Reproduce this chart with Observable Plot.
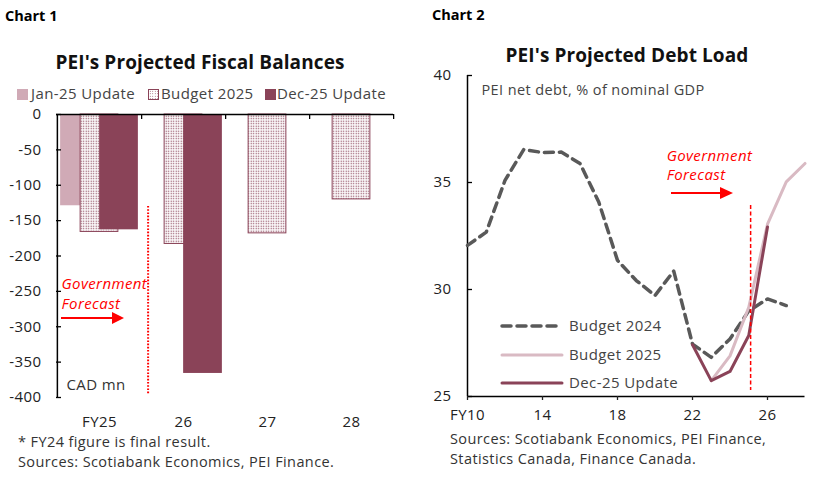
<!DOCTYPE html>
<html><head><meta charset="utf-8">
<script src="https://cdn.jsdelivr.net/npm/d3@7"></script>
<script src="https://cdn.jsdelivr.net/npm/@observablehq/plot@0.6"></script>
<style>
body{margin:0;background:#fff;font-family:"Open Sans",sans-serif;}
#wrap{position:relative;width:828px;height:483px;overflow:hidden;background:#fff}
.abs{position:absolute;white-space:nowrap}
.hdr{font-weight:700;font-size:14.5px;color:#000;line-height:20px}
.title{font-weight:700;font-size:19px;color:#111;text-align:center;line-height:24px;letter-spacing:0.1px}
.note{font-size:14.5px;color:#333;line-height:20px;letter-spacing:0.4px}
.leg{font-size:15px;color:#444;line-height:20px;letter-spacing:0.4px}
.sw{position:absolute;width:11px;height:11px}
</style></head><body><div id="wrap">
<div class="abs hdr" style="left:5px;top:6px">Chart 1</div>
<div class="abs hdr" style="left:432px;top:5px">Chart 2</div>
<div class="abs title" style="left:0;width:400px;top:50px">PEI's Projected Fiscal Balances</div>
<div class="abs title" style="left:427px;width:400px;top:43px">PEI's Projected Debt Load</div>
<div id="leg1"></div>
<div id="c1" class="abs" style="left:0;top:100px"></div>
<div id="c2" class="abs" style="left:414px;top:60px"></div>
<div class="abs note" style="left:18px;top:432px">* FY24 figure is final result.<br>Sources: Scotiabank Economics, PEI Finance.</div>
<div class="abs note" style="left:450px;top:429px">Sources: Scotiabank Economics, PEI Finance,<br>Statistics Canada, Finance Canada.</div>
<svg class="abs" style="left:0;top:0;pointer-events:none" width="828" height="483">
  <line x1="61" y1="318" x2="114" y2="318" stroke="#ff0000" stroke-width="2"/>
  <polygon points="112,312 124,318 112,324" fill="#ff0000"/>
  <line x1="671" y1="193" x2="722" y2="193" stroke="#ff0000" stroke-width="2"/>
  <polygon points="720,187 733,193 720,199" fill="#ff0000"/>
</svg>
<div id="leg2"></div>
</div>
<script>
// ---------- Chart 1 data ----------
const fiscalCategories = ["FY25", "26", "27", "28"];
const fiscalSeries = ["Jan-25 Update", "Budget 2025", "Dec-25 Update"];
const jan25Balances = [-129, null, null, null];
const budget2025Balances = [-166, -183, -168, -120];
const dec25Balances = [-163, -366, null, null];
const fiscalTicks = [0, -50, -100, -150, -200, -250, -300, -350, -400];

// ---------- Chart 2 data ----------
const budget2024Years = [10, 11, 12, 13, 14, 15, 16, 17, 18, 19, 20, 21, 22, 23, 24, 25, 26, 27];
const budget2024Debt = [32.06, 32.68, 35.1, 36.54, 36.4, 36.42, 35.89, 34.09, 31.36, 30.42, 29.72, 30.86, 27.45, 26.83, 27.69, 29.0, 29.56, 29.25];
const budget2025Years = [23, 24, 25, 26, 27, 28];
const budget2025Debt = [25.74, 26.9, 29.17, 33.05, 35.03, 35.89];
const dec25Years = [22, 23, 24, 25, 26];
const dec25Debt = [27.42, 25.74, 26.17, 27.85, 32.92];
const debtXTicks = [10, 14, 18, 22, 26];
const debtYTicks = [25, 30, 35, 40];
const debtSeries = ["Budget 2024", "Budget 2025", "Dec-25 Update"];

const C_LIGHT = "#D0AAB6";
const C_DARK = "#8A4358";
const C_LINE25 = "#D9BAC3";
const C_GREY = "#595959";

function rows(cats, vals) {
  return cats.map((c, i) => ({cat: c, value: vals[i]})).filter(d => d.value != null);
}

const axisStyle = {fontFamily: "Open Sans", fontSize: "15px", letterSpacing: "0.4px", color: "#222", background: "transparent", overflow: "visible"};

// ---------- Chart 1 ----------
const W1 = 414, ML1 = 56, MR1 = 21, MT1 = 14, MB1 = 36, H1 = 333;
const innerW1 = W1 - ML1 - MR1;
const innerH1 = H1 - MT1 - MB1;
const bw = innerW1 / fiscalCategories.length;
const barInset = (bw - 39) / 2;
const step = 19.5;

const fiscal = Plot.plot({
  width: W1, height: H1,
  marginLeft: ML1, marginRight: MR1, marginTop: MT1, marginBottom: MB1,
  style: axisStyle,
  x: {domain: fiscalCategories, padding: 0, label: null},
  y: {domain: [-400, 0], label: null},
  marks: [
    Plot.barY(rows(fiscalCategories, jan25Balances), {x: "cat", y: "value", fill: C_LIGHT, dx: -step, insetLeft: barInset, insetRight: barInset}),
    Plot.barY(rows(fiscalCategories, budget2025Balances), {x: "cat", y: "value", fill: "url(#dots)", stroke: C_DARK, strokeWidth: 1, dx: 0, insetLeft: barInset + 0.5, insetRight: barInset + 0.5}),
    Plot.barY(rows(fiscalCategories, dec25Balances), {x: "cat", y: "value", fill: C_DARK, dx: step, insetLeft: barInset, insetRight: barInset}),
    Plot.ruleY([0], {stroke: "#000", strokeWidth: 1.5}),
    Plot.ruleX([fiscalCategories[0]], {dx: -bw / 2, stroke: "#000", strokeWidth: 1.5}),
    Plot.tickY(fiscalTicks, {y: d => d, insetRight: innerW1 - 5, stroke: "#000", strokeWidth: 1.3}),
    Plot.tickX(fiscalCategories, {x: d => d, dx: bw / 2, insetBottom: innerH1 - 5, stroke: "#000", strokeWidth: 1.3}),
    Plot.axisY({ticks: fiscalTicks, tickSize: 0, tickPadding: 15, tickFormat: d => String(d), label: null}),
    Plot.axisX({tickSize: 0, tickPadding: 19, label: null}),
    Plot.ruleX([fiscalCategories[0]], {dx: 48.6, y1: -130, y2: -396, stroke: "#ff0000", strokeWidth: 2, strokeDasharray: "1.6,1.6"}),
    Plot.text(["Government\nForecast"], {frameAnchor: "left", y: [-252], text: d => d, dx: 5, textAnchor: "start", fill: "#ff0000", fontStyle: "italic", fontSize: 15, lineHeight: 1.3}),
    Plot.text(["CAD mn"], {frameAnchor: "bottom-left", text: d => d, dx: 10, dy: -8, textAnchor: "start", fill: "#333", fontSize: 15})
  ]
});
fiscal.insertAdjacentHTML("afterbegin",
  `<defs><pattern id="dots" width="2.5" height="2.5" patternUnits="userSpaceOnUse">
     <rect width="2.5" height="2.5" fill="#fff"/>
     <rect x="0.6" y="0.6" width="1.2" height="1.2" fill="${C_DARK}"/>
   </pattern></defs>`);
document.getElementById("c1").appendChild(fiscal);

// Chart 1 legend
const leg1 = document.getElementById("leg1");
const leg1Items = [
  {x: 17, tx: 31, fill: C_LIGHT, border: "none"},
  {x: 148, tx: 161, fill: "dots", border: C_DARK},
  {x: 265, tx: 277, fill: C_DARK, border: "none"}
];
fiscalSeries.forEach((s, i) => {
  const it = leg1Items[i];
  const sw = document.createElement("div");
  sw.className = "sw";
  sw.style.left = it.x + "px"; sw.style.top = "89px";
  if (it.fill === "dots") {
    sw.style.boxSizing = "border-box";
    sw.style.border = "1px solid " + it.border;
    sw.style.background = `radial-gradient(${C_DARK} 0.6px, #fff 0.7px) 0 0/2.5px 2.5px`;
  } else sw.style.background = it.fill;
  leg1.appendChild(sw);
  const t = document.createElement("div");
  t.className = "abs leg";
  t.style.left = it.tx + "px"; t.style.top = "83px";
  t.textContent = s;
  leg1.appendChild(t);
});

// ---------- Chart 2 ----------
const W2 = 414, ML2 = 53, MR2 = 23.5, MT2 = 15, MB2 = 40, H2 = 376;
const innerW2 = W2 - ML2 - MR2;
const toPts = (xs, ys) => xs.map((x, i) => ({year: x, value: ys[i]}));

const debt = Plot.plot({
  width: W2, height: H2,
  marginLeft: ML2, marginRight: MR2, marginTop: MT2, marginBottom: MB2,
  style: axisStyle,
  x: {domain: [10, 28], label: null},
  y: {domain: [25, 40], label: null},
  marks: [
    Plot.ruleX([10], {stroke: "#000", strokeWidth: 1.5}),
    Plot.ruleY([25], {stroke: "#000", strokeWidth: 1.5}),
    Plot.tickY(debtYTicks, {y: d => d, insetRight: innerW2 - 5, stroke: "#000", strokeWidth: 1.3}),
    Plot.axisY({ticks: debtYTicks, tickSize: 0, tickPadding: 16, label: null}),
    Plot.axisX({ticks: debtXTicks, tickSize: 4, tickPadding: 9, tickFormat: d => d === 10 ? "FY10" : String(d), label: null, strokeWidth: 1.3}),
    Plot.text(["PEI net debt, % of nominal GDP"], {frameAnchor: "top-left", text: d => d, dx: 14, dy: 9, textAnchor: "start", fill: "#444", fontSize: 14.5}),
    Plot.line(toPts(budget2024Years, budget2024Debt), {x: "year", y: "value", stroke: C_GREY, strokeWidth: 3.5, strokeDasharray: "9,6", strokeLinejoin: "round"}),
    Plot.line(toPts(budget2025Years, budget2025Debt), {x: "year", y: "value", stroke: C_LINE25, strokeWidth: 3}),
    Plot.line(toPts(dec25Years, dec25Debt), {x: "year", y: "value", stroke: C_DARK, strokeWidth: 3}),
    Plot.ruleX([25.1], {y1: 33.93, y2: 25.28, stroke: "#ff0000", strokeWidth: 1.5, strokeDasharray: "4,2.5"}),
    Plot.text(["Government\nForecast"], {x: [20.62], y: [35.85], text: d => d, textAnchor: "start", fill: "#ff0000", fontStyle: "italic", fontSize: 15, lineHeight: 1.3})
  ]
});
document.getElementById("c2").appendChild(debt);

// Chart 2 legend (inside plot area)
const leg2 = document.getElementById("leg2");
const leg2Styles = [
  {stroke: C_GREY, dash: "9,6", w: 3.5},
  {stroke: C_LINE25, dash: "", w: 3},
  {stroke: C_DARK, dash: "", w: 3}
];
const leg2Y = [326, 355, 383];
debtSeries.forEach((s, i) => {
  const st = leg2Styles[i];
  const svg = document.createElementNS("http://www.w3.org/2000/svg", "svg");
  svg.setAttribute("class", "abs");
  svg.setAttribute("width", 64); svg.setAttribute("height", 10);
  svg.style.left = "500px"; svg.style.top = (leg2Y[i] - 5) + "px";
  svg.innerHTML = `<line x1="2" y1="5" x2="62" y2="5" stroke="${st.stroke}" stroke-width="${st.w}" ${st.dash ? `stroke-dasharray="${st.dash}"` : ""} stroke-linecap="round"/>`;
  leg2.appendChild(svg);
  const t = document.createElement("div");
  t.className = "abs leg";
  t.style.left = "569px"; t.style.top = (leg2Y[i] - 11) + "px";
  t.textContent = s;
  leg2.appendChild(t);
});
</script>
</body></html>
